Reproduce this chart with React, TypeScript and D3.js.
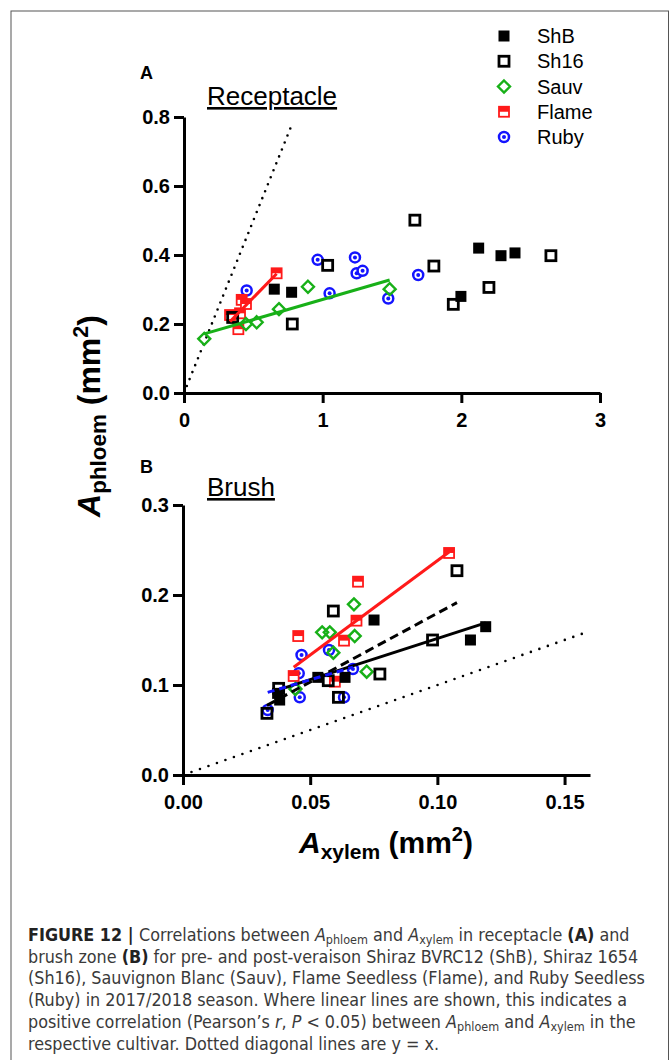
import { useEffect, useRef } from 'react';
import * as d3 from 'd3';

type Pt = [number, number];

const cultivars = ['ShB', 'Sh16', 'Sauv', 'Flame', 'Ruby'];

// receptacle (A): [A_xylem, A_phloem] in mm2
const recShB: Pt[] = [[0.651, 0.301], [0.776, 0.292], [1.997, 0.28], [2.125, 0.42], [2.286, 0.398], [2.387, 0.406]];
const recSh16: Pt[] = [[0.351, 0.219], [0.781, 0.2], [1.036, 0.37], [1.665, 0.501], [1.802, 0.368], [1.942, 0.257], [2.199, 0.306], [2.646, 0.398]];
const recSauv: Pt[] = [[0.146, 0.157], [0.447, 0.2], [0.524, 0.205], [0.685, 0.243], [0.894, 0.308], [1.483, 0.301]];
const recFlame: Pt[] = [[0.332, 0.226], [0.392, 0.185], [0.404, 0.231], [0.416, 0.27], [0.447, 0.258], [0.668, 0.347]];
const recRuby: Pt[] = [[0.452, 0.297], [0.964, 0.386], [1.05, 0.289], [1.233, 0.393], [1.245, 0.347], [1.288, 0.354], [1.473, 0.274], [1.689, 0.342]];

// brush zone (B)
const brShB: Pt[] = [[0.0372, 0.0907], [0.038, 0.0833], [0.053, 0.1085], [0.0637, 0.1085], [0.0751, 0.1722], [0.113, 0.15], [0.119, 0.1648]];
const brSh16: Pt[] = [[0.033, 0.0685], [0.0376, 0.0963], [0.0571, 0.1048], [0.0591, 0.1822], [0.0611, 0.0863], [0.0774, 0.1122], [0.0981, 0.15], [0.1077, 0.227]];
const brSauv: Pt[] = [[0.0442, 0.0956], [0.0547, 0.1585], [0.0577, 0.1585], [0.0591, 0.1359], [0.0672, 0.1896], [0.0675, 0.1544], [0.0722, 0.1148]];
const brFlame: Pt[] = [[0.0435, 0.11], [0.0453, 0.1544], [0.0597, 0.1037], [0.0633, 0.1493], [0.0682, 0.1715], [0.0688, 0.2148], [0.1046, 0.2467]];
const brRuby: Pt[] = [[0.0333, 0.0722], [0.0455, 0.113], [0.0459, 0.0863], [0.0466, 0.1333], [0.0574, 0.1389], [0.0633, 0.0863], [0.0668, 0.1178]];

// cultivars with a significant linear fit (Pearson's r, P < 0.05)
const recFits = ['Sauv', 'Flame'];
const brushFits = ['ShB', 'Sh16', 'Flame', 'Ruby'];

const recTicksX = [0, 1, 2, 3];
const recTicksY = [0, 0.2, 0.4, 0.6, 0.8];
const brTicksX = [0, 0.05, 0.1, 0.15];
const brTicksY = [0, 0.1, 0.2, 0.3];

const colors: Record<string, string> = { ShB: '#000', Sh16: '#000', Sauv: '#18b018', Flame: '#ff1a1a', Ruby: '#1414ff' };
const fitDash: Record<string, string | null> = { ShB: null, Sh16: '9 5', Sauv: null, Flame: null, Ruby: '7 5' };

const FONT = "'Liberation Sans', Arial, Helvetica, sans-serif";
const CAP_FONT = "'DejaVu Sans Condensed', 'Liberation Sans', sans-serif";

type Seg = { t: string; b?: boolean; i?: boolean; sub?: boolean };
const caption: Seg[][] = [
  [{ t: 'FIGURE 12 | ', b: true }, { t: 'Correlations between ' }, { t: 'A', i: true }, { t: 'phloem', sub: true }, { t: ' and ' }, { t: 'A', i: true }, { t: 'xylem', sub: true }, { t: ' in receptacle ' }, { t: '(A)', b: true }, { t: ' and' }],
  [{ t: 'brush zone ' }, { t: '(B)', b: true }, { t: ' for pre- and post-veraison Shiraz BVRC12 (ShB), Shiraz 1654' }],
  [{ t: '(Sh16), Sauvignon Blanc (Sauv), Flame Seedless (Flame), and Ruby Seedless' }],
  [{ t: '(Ruby) in 2017/2018 season. Where linear lines are shown, this indicates a' }],
  [{ t: 'positive correlation (Pearson\u2019s ' }, { t: 'r', i: true }, { t: ', ' }, { t: 'P', i: true }, { t: ' < 0.05) between ' }, { t: 'A', i: true }, { t: 'phloem', sub: true }, { t: ' and ' }, { t: 'A', i: true }, { t: 'xylem', sub: true }, { t: ' in the' }],
  [{ t: 'respective cultivar. Dotted diagonal lines are y = x.' }],
];

function linearFit(pts: Pt[]): Pt[] {
  const mx = d3.mean(pts, d => d[0]) as number;
  const my = d3.mean(pts, d => d[1]) as number;
  const sxy = d3.sum(pts, d => (d[0] - mx) * (d[1] - my));
  const sxx = d3.sum(pts, d => (d[0] - mx) ** 2);
  const b = sxy / sxx;
  const a = my - b * mx;
  const [x0, x1] = d3.extent(pts, d => d[0]) as [number, number];
  return [[x0, a + b * x0], [x1, a + b * x1]];
}

function drawMarker(g: any, name: string, cx: number, cy: number) {
  const c = colors[name];
  if (name === 'ShB') {
    g.append('rect').attr('x', cx - 5.5).attr('y', cy - 5.5).attr('width', 11).attr('height', 11).attr('fill', c);
  } else if (name === 'Sh16') {
    g.append('rect').attr('x', cx - 5).attr('y', cy - 5).attr('width', 10).attr('height', 10)
      .attr('fill', 'none').attr('stroke', c).attr('stroke-width', 2.8);
  } else if (name === 'Sauv') {
    const r = 6;
    g.append('path').attr('d', `M${cx},${cy - r}L${cx + r},${cy}L${cx},${cy + r}L${cx - r},${cy}Z`)
      .attr('fill', 'none').attr('stroke', c).attr('stroke-width', 2.4);
  } else if (name === 'Flame') {
    g.append('rect').attr('x', cx - 5).attr('y', cy - 5).attr('width', 10).attr('height', 10)
      .attr('fill', '#fff').attr('stroke', c).attr('stroke-width', 1.8);
    g.append('rect').attr('x', cx - 5).attr('y', cy - 5).attr('width', 10).attr('height', 5).attr('fill', c);
  } else {
    g.append('circle').attr('cx', cx).attr('cy', cy).attr('r', 5).attr('fill', '#fff')
      .attr('stroke', c).attr('stroke-width', 2.5);
    g.append('circle').attr('cx', cx).attr('cy', cy).attr('r', 2).attr('fill', c);
  }
}

function App() {
  const svgRef = useRef<SVGSVGElement>(null);

  useEffect(() => {
    drawChart();
  }, []);

  const drawPanel = (svg: any, p: any) => {
    const { x, y, series, fits, ticksX, ticksY, fmtX, fmtY, diag, dotGap } = p;
    const g = svg.append('g');

    // y = x reference
    g.append('path')
      .attr('d', d3.line()([[x(0), y(0)], [x(diag), y(diag)]]))
      .attr('fill', 'none').attr('stroke', '#000').attr('stroke-width', 2.6)
      .attr('stroke-linecap', 'round').attr('stroke-dasharray', `0 ${dotGap}`);

    // axes
    const ax = g.append('g').attr('transform', `translate(0,${y(0)})`)
      .call(d3.axisBottom(x).tickValues(ticksX).tickFormat(fmtX).tickSize(10).tickSizeOuter(0).tickPadding(10));
    const ay = g.append('g').attr('transform', `translate(${x(0)},0)`)
      .call(d3.axisLeft(y).tickValues(ticksY).tickFormat(fmtY).tickSize(10).tickSizeOuter(0).tickPadding(4));
    [ax, ay].forEach(a => {
      a.attr('font-family', FONT).attr('font-size', 20).attr('font-weight', 'bold');
      a.select('.domain').attr('stroke-width', 3);
      a.selectAll('.tick line').attr('stroke-width', 3);
      a.selectAll('.tick text').attr('fill', '#000');
    });

    // points, last data set at the bottom
    const pts = g.append('g');
    [...cultivars].reverse().forEach(name => {
      series[name].forEach((d: Pt) => drawMarker(pts, name, x(d[0]), y(d[1])));
    });

    // regression lines
    fits.forEach((name: string) => {
      const seg = linearFit(series[name]);
      g.append('path')
        .attr('d', d3.line().x(d => x(d[0])).y(d => y(d[1]))(seg))
        .attr('fill', 'none').attr('stroke', colors[name]).attr('stroke-width', 3)
        .attr('stroke-dasharray', fitDash[name]);
    });
  };

  const drawChart = () => {
    d3.select(svgRef.current).selectAll('*').remove();
    const svg = d3.select(svgRef.current).attr('width', 670).attr('height', 1060);

    svg.append('rect').attr('x', 11).attr('y', 11).attr('width', 657.5).attr('height', 1070)
      .attr('fill', '#fff').attr('stroke', '#555').attr('stroke-width', 1);

    // panel A
    const xA = d3.scaleLinear().domain([0, 3]).range([184, 600]);
    const yA = d3.scaleLinear().domain([0, 0.8]).range([393, 117]);
    drawPanel(svg, {
      x: xA, y: yA, ticksX: recTicksX, ticksY: recTicksY,
      fmtX: d3.format('d'), fmtY: d3.format('.1f'), diag: 0.78, dotGap: 7.5,
      series: { ShB: recShB, Sh16: recSh16, Sauv: recSauv, Flame: recFlame, Ruby: recRuby },
      fits: recFits,
    });

    // panel B
    const xB = d3.scaleLinear().domain([0, 0.16]).range([183, 590]);
    const yB = d3.scaleLinear().domain([0, 0.3]).range([775, 505]);
    drawPanel(svg, {
      x: xB, y: yB, ticksX: brTicksX, ticksY: brTicksY,
      fmtX: d3.format('.2f'), fmtY: d3.format('.1f'), diag: 0.16, dotGap: 9,
      series: { ShB: brShB, Sh16: brSh16, Sauv: brSauv, Flame: brFlame, Ruby: brRuby },
      fits: brushFits,
    });

    // panel letters and titles
    svg.append('text').attr('x', 140).attr('y', 79).text('A')
      .attr('font-family', FONT).attr('font-size', 18).attr('font-weight', 'bold');
    svg.append('text').attr('x', 140).attr('y', 473).text('B')
      .attr('font-family', FONT).attr('font-size', 18).attr('font-weight', 'bold');
    svg.append('text').attr('x', 207).attr('y', 105).text('Receptacle')
      .attr('font-family', FONT).attr('font-size', 26).style('text-decoration', 'underline');
    svg.append('text').attr('x', 207).attr('y', 496).text('Brush')
      .attr('font-family', FONT).attr('font-size', 26).style('text-decoration', 'underline');

    // axis titles
    const axisTitle = (t: any, sub: string, size: number) => {
      t.attr('font-family', FONT).attr('font-size', size).attr('font-weight', 'bold').attr('text-anchor', 'middle');
      t.append('tspan').attr('font-style', 'italic').text('A');
      t.append('tspan').attr('font-size', size * 0.7).attr('dy', 6).text(sub);
      t.append('tspan').attr('dy', -6).text(' (mm');
      t.append('tspan').attr('font-size', size * 0.67).attr('dy', -12).text('2');
      t.append('tspan').attr('dy', 12).text(')');
    };
    axisTitle(svg.append('text').attr('transform', 'translate(100,416) rotate(-90)'), 'phloem', 32);
    axisTitle(svg.append('text').attr('x', 386).attr('y', 853), 'xylem', 30);

    // legend
    const ly = d3.scalePoint().domain(cultivars).range([36, 137]);
    const leg = svg.append('g');
    cultivars.forEach(name => {
      drawMarker(leg, name, 504, ly(name) as number);
      leg.append('text').attr('x', 537).attr('y', ly(name) as number).attr('dy', '0.36em')
        .attr('font-family', FONT).attr('font-size', 20).text(name);
    });

    // caption
    caption.forEach((line, i) => {
      const t = svg.append('text').attr('x', 28).attr('y', 941 + i * 21.7)
        .attr('font-family', CAP_FONT).attr('font-size', 17.8).attr('fill', '#3a3a3a');
      let shift = 0;
      line.forEach(s => {
        const want = s.sub ? 3 : 0;
        const ts = t.append('tspan').text(s.t).attr('dy', want - shift);
        shift = want;
        if (s.b) ts.attr('font-weight', 'bold').attr('fill', '#222');
        if (s.i) ts.attr('font-style', 'italic');
        if (s.sub) ts.attr('font-size', 12.5);
      });
    });
  };

  return (
    <div style={{ position: 'absolute', left: 0, top: 0 }}>
      <svg ref={svgRef}></svg>
    </div>
  );
}

export default App;
